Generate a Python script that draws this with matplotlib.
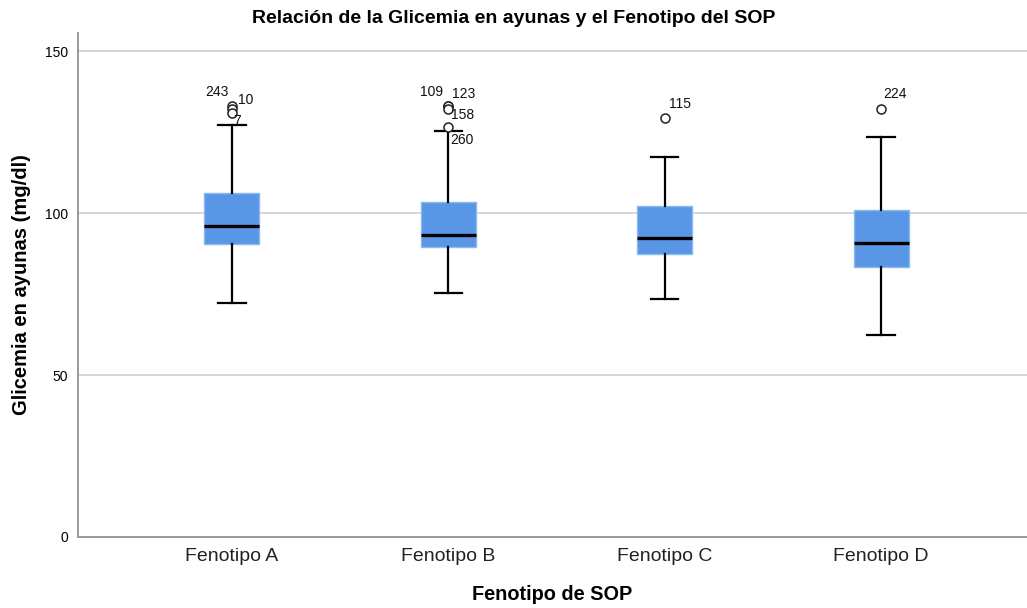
import matplotlib
matplotlib.use("Agg")
import matplotlib.pyplot as plt

plt.rcParams['font.family'] = ['Liberation Sans', 'DejaVu Sans']

# Phenotype groups and box-plot summaries (mg/dl)
groups = ["Fenotipo A", "Fenotipo B", "Fenotipo C", "Fenotipo D"]
q1 = [90.4, 89.5, 87.3, 83.3]
median = [96.0, 93.2, 92.3, 90.7]
q3 = [106.2, 103.4, 102.2, 100.9]
whisker_low = [72.2, 75.3, 73.5, 62.3]
whisker_high = [127.2, 125.3, 117.3, 123.5]

# Outlying cases: value and case number
outlier_values = [[133, 132, 131], [133, 133, 132, 126.5], [129.3], [132.1]]
outlier_cases = [["243", "10", "7"], ["109", "123", "158", "260"], ["115"], ["224"]]
# label offsets in points for each case number
outlier_offsets = [[(-11, 10), (10, 7), (4, -6)],
                   [(-12, 10), (11, 9), (10, -4), (10, -9)],
                   [(11, 10)],
                   [(10, 11)]]

y_ticks = [0, 50, 100, 150]

fig = plt.figure(figsize=(10.27, 6.08), dpi=100)
ax = fig.add_axes([78 / 1027, (608 - 537) / 608, 1 - 78 / 1027, (537 - 33) / 608])

stats = []
for i, name in enumerate(groups):
    stats.append(dict(label=name, q1=q1[i], med=median[i], q3=q3[i],
                      whislo=whisker_low[i], whishi=whisker_high[i],
                      fliers=outlier_values[i]))

ax.bxp(stats, positions=range(1, len(groups) + 1), widths=0.254,
       capwidths=0.127, patch_artist=True, showfliers=True,
       boxprops=dict(facecolor="#5a96e6", edgecolor="#8ab8f0", linewidth=1.0),
       medianprops=dict(color="black", linewidth=2.4),
       whiskerprops=dict(color="black", linewidth=1.6),
       capprops=dict(color="black", linewidth=1.6),
       flierprops=dict(marker="o", markerfacecolor="white",
                       markeredgecolor="#222222", markersize=6.5,
                       markeredgewidth=1.1))

for i in range(len(groups)):
    for val, case, off in zip(outlier_values[i], outlier_cases[i], outlier_offsets[i]):
        ax.annotate(case, xy=(i + 1, val), xytext=off, textcoords="offset points",
                    ha="center", va="center", fontsize=10, color="#111111")

ax.set_xlim(0.289, 4.674)
ax.set_ylim(0, 155.6)
ax.set_yticks(y_ticks)
ax.set_yticklabels([str(t) for t in y_ticks], fontsize=10)
ax.set_xticks(range(1, len(groups) + 1))
ax.set_xticklabels(groups, fontsize=14, color="#222222")
ax.tick_params(axis="y", length=0, pad=7)
ax.tick_params(axis="x", length=0, pad=8)

ax.yaxis.grid(True, color="#cfcfcf", linewidth=1.2)
ax.set_axisbelow(True)
for side in ["top", "right"]:
    ax.spines[side].set_visible(False)
for side in ["left", "bottom"]:
    ax.spines[side].set_color("#9a9a9a")
    ax.spines[side].set_linewidth(1.4)

ax.set_xlabel("Fenotipo de SOP", fontsize=14.3, fontweight="bold", labelpad=14)
ax.set_ylabel("Glicemia en ayunas (mg/dl)", fontsize=14.5, fontweight="bold", labelpad=10)
fig.suptitle("Relación de la Glicemia en ayunas y el Fenotipo del SOP",
             fontsize=14, fontweight="bold", y=0.983)

fig.savefig("out.png", dpi=100)
